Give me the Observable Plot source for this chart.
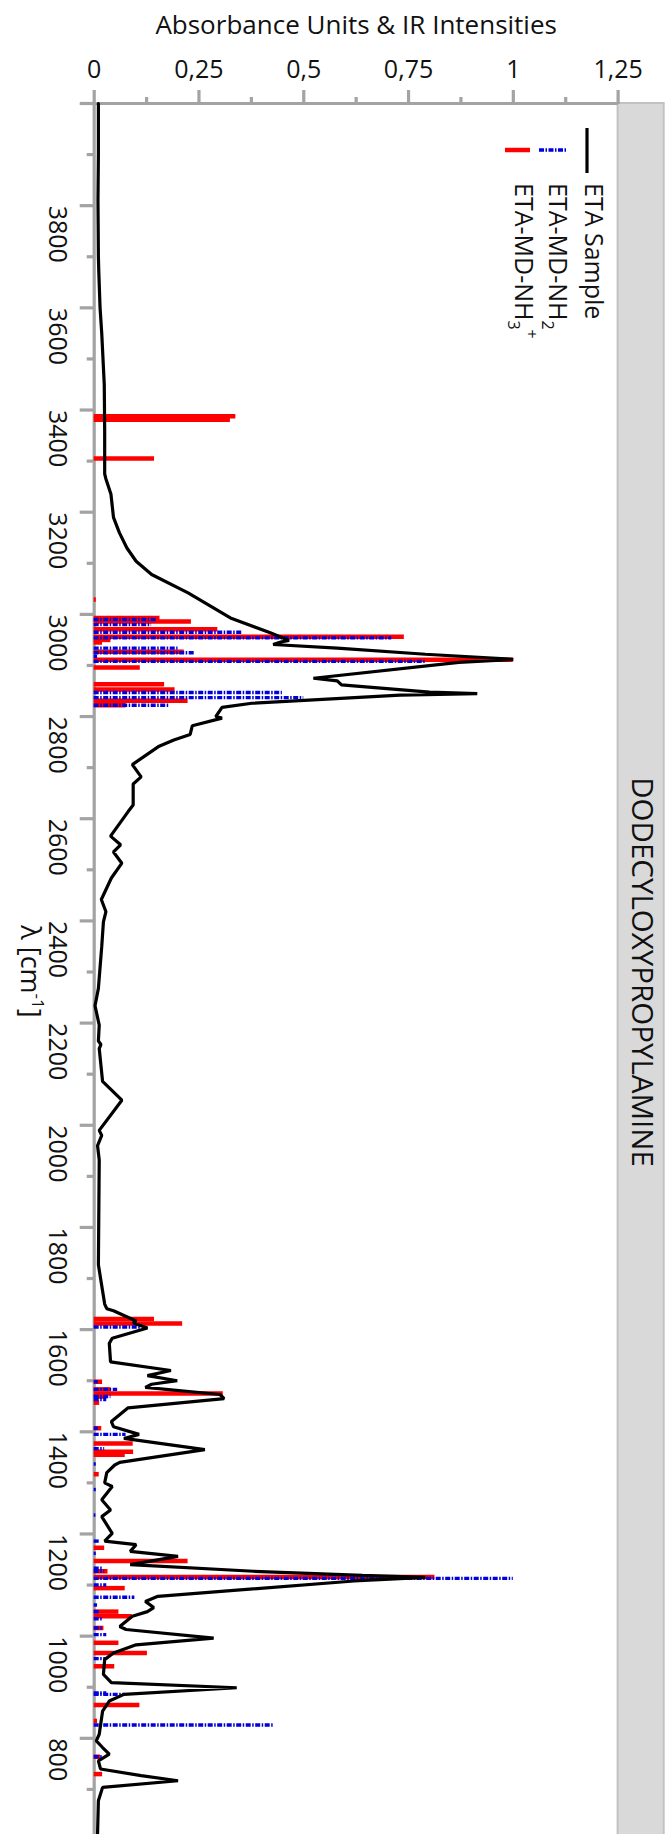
<!DOCTYPE html>
<html><head><meta charset="utf-8">
<script src="https://cdn.jsdelivr.net/npm/d3@7"></script>
<script src="https://cdn.jsdelivr.net/npm/@observablehq/plot@0.6"></script>
<style>body{margin:0;background:#fff;overflow:hidden}</style>
</head><body><div id="chart"></div>
<script>
// ETA Sample spectrum (wavenumber cm-1, absorbance)
const spectrumWavenumber = [4000,3900,3810,3700,3670,3600,3550,3450,3360,3275,3265,3235,3190,3160,3130,3104,3078,3042,2993,2964,2949,2946,2941,2934,2922,2912,2906,2875,2870,2862,2848,2845,2842,2826,2818,2800,2797,2782,2765,2754,2742,2706,2682,2668,2627,2614,2566,2549,2535,2513,2484,2442,2418,2398,2350,2268,2234,2196,2165,2158,2150,2086,2049,1990,1980,1960,1932,1727,1686,1650,1641,1637,1617,1613,1603,1583,1573,1537,1520,1510,1500,1493,1487,1473,1465,1447,1420,1410,1395,1387,1365,1340,1335,1320,1300,1293,1267,1247,1234,1201,1186,1179,1166,1156,1140,1127,1119,1115,1108,1078,1068,1056,1048,1039,1019,1013,996,983,967,954,925,909,899,886,873,853,808,795,782,769,756,740,727,717,704,678,613,600];
const spectrumAbsorbance = [0.010,0.010,0.009,0.010,0.011,0.014,0.018,0.024,0.025,0.025,0.028,0.040,0.046,0.060,0.078,0.100,0.137,0.224,0.325,0.420,0.465,0.445,0.427,0.580,0.790,1.000,0.870,0.523,0.580,0.590,0.800,0.914,0.730,0.376,0.305,0.290,0.305,0.234,0.229,0.190,0.155,0.091,0.112,0.093,0.093,0.081,0.039,0.063,0.046,0.066,0.041,0.017,0.028,0.022,0.018,0.010,0.002,0.012,0.010,0.016,0.012,0.020,0.066,0.012,0.018,0.008,0.012,0.010,0.018,0.025,0.030,0.046,0.100,0.093,0.127,0.043,0.036,0.039,0.183,0.127,0.198,0.137,0.122,0.300,0.310,0.081,0.041,0.046,0.107,0.071,0.264,0.061,0.049,0.030,0.025,0.043,0.018,0.039,0.018,0.043,0.025,0.100,0.086,0.200,0.086,0.380,0.640,0.790,0.620,0.152,0.122,0.142,0.127,0.091,0.061,0.076,0.285,0.100,0.046,0.025,0.022,0.041,0.340,0.071,0.036,0.020,0.012,0.005,0.020,0.036,0.010,0.015,0.112,0.200,0.020,0.010,0.008,0.008];

// ETA-MD-NH3+ computed IR intensities (red)
const nh3Wavenumber = [3388,3381,3305,3029,2993,2986,2971,2956,2950,2945,2927,2911,2896,2863,2853,2831,2822,1621,1612,1498,1483,1475,1469,1457,1407,1377,1361,1355,1317,1173,1147,1127,1116,1094,1048,1039,1016,987,967,941,865,834,764,730];
const nh3Intensity = [0.338,0.325,0.144,0.005,0.157,0.232,0.295,0.740,0.040,0.020,0.215,1.000,0.110,0.168,0.193,0.224,0.076,0.144,0.211,0.020,0.040,0.308,0.030,0.013,0.018,0.093,0.094,0.074,0.012,0.025,0.224,0.033,0.813,0.074,0.059,0.091,0.023,0.059,0.127,0.049,0.109,0.008,0.015,0.020];

// ETA-MD-NH2 computed IR intensities (blue)
const nh2Wavenumber = [2990,2980,2965,2954,2934,2925,2918,2908,2847,2837,2822,1605,1498,1483,1469,1463,1407,1395,1367,1337,1287,1237,1186,1162,1133,1127,1113,1100,1076,1061,1048,1034,1016,1003,956,889,886,826,764];
const nh2Intensity = [0.150,0.137,0.353,0.710,0.200,0.242,0.008,0.790,0.449,0.500,0.178,0.112,0.010,0.056,0.040,0.030,0.010,0.076,0.025,0.005,0.005,0.004,0.013,0.005,0.020,0.025,1.000,0.030,0.097,0.008,0.015,0.020,0.023,0.030,0.028,0.030,0.073,0.427,0.020];

const xTicks = [0, 0.25, 0.5, 0.75, 1, 1.25];
const xMinorTicks = [0.125, 0.375, 0.625, 0.875, 1.125];
const yTicks = [3800, 3600, 3400, 3200, 3000, 2800, 2600, 2400, 2200, 2000, 1800, 1600, 1400, 1200, 1000, 800];
const yMajorTickMarks = [4000, 3800, 3600, 3400, 3200, 3000, 2800, 2600, 2400, 2200, 2000, 1800, 1600, 1400, 1200, 1000, 800, 600];
const yMinorTicks = [3900, 3700, 3500, 3300, 3100, 2900, 2700, 2500, 2300, 2100, 1900, 1700, 1500, 1300, 1100, 900, 700];
const facetLabels = ["DODECYLOXYPROPYLAMINE"];
const xTitle = ["Absorbance Units & IR Intensities"];

const spectrum = spectrumWavenumber.map((w, i) => ({w, a: spectrumAbsorbance[i]}));
const nh3 = nh3Wavenumber.map((w, i) => ({w, a: nh3Intensity[i]}));
const nh2 = nh2Wavenumber.map((w, i) => ({w, a: nh2Intensity[i]}));

const FONT = "'Open Sans', 'Noto Sans', 'DejaVu Sans', sans-serif";
const GRAY = "#a3a3a3";
const RED = "#ff0000";
const BLUE = "#0000dd";
const DASH = "5,1.5,1.5,1.5";
const fmt = d => String(d).replace(".", ",");

const plot = Plot.plot({
  width: 667, height: 1840,
  marginTop: 103, marginLeft: 93.7, marginRight: 49.4, marginBottom: 0,
  style: {fontFamily: FONT, fontSize: "25px", color: "#000", background: "#fff"},
  x: {domain: [0, 1.25], axis: null},
  y: {domain: [600, 4000], axis: null},
  marks: [
    Plot.rect(facetLabels, {x1: () => 1.25, x2: () => 1.36, y1: () => 600, y2: () => 4000, fill: "#d9d9d9", stroke: "#c2c2c2", strokeWidth: 2}),
    Plot.text(facetLabels, {x: () => 1.305, y: () => 2300, text: d => d, rotate: 90, fontSize: 29.5, fill: "#111"}),
    Plot.text(xTitle, {frameAnchor: "top", dy: -78, lineAnchor: "middle", text: d => d, fontSize: 26, fill: "#111"}),
    Plot.axisX({anchor: "top", ticks: xMinorTicks, tickSize: 7, tickFormat: () => "", stroke: GRAY, strokeWidth: 3.2, label: null}),
    Plot.axisX({anchor: "top", ticks: xTicks, tickSize: 14, tickPadding: 12, tickFormat: fmt, stroke: GRAY, strokeWidth: 3.2, fontSize: 25, fill: "#111", label: null}),
    Plot.axisY({anchor: "left", ticks: yMinorTicks, tickSize: 7, tickFormat: () => "", stroke: GRAY, strokeWidth: 3.2, label: null}),
    Plot.axisY({anchor: "left", ticks: yMajorTickMarks, tickSize: 14, tickFormat: () => "", stroke: GRAY, strokeWidth: 3.2, label: null}),
    Plot.text(yTicks, {y: d => d, frameAnchor: "left", dx: -37, rotate: 90, text: d => String(d), fontSize: 25, fill: "#111"}),
    Plot.ruleY([4000], {stroke: GRAY, strokeWidth: 3.2}),
    Plot.ruleX([0], {stroke: GRAY, strokeWidth: 3.2}),
    Plot.ruleY(nh3, {y: "w", x1: 0, x2: "a", stroke: RED, strokeWidth: 4.5}),
    Plot.ruleY(nh2, {y: "w", x1: 0, x2: "a", stroke: BLUE, strokeWidth: 3.4, strokeDasharray: DASH}),
    Plot.line(spectrum, {x: "a", y: "w", stroke: "#000", strokeWidth: 3.2, strokeLinejoin: "miter"})
  ]
});

document.getElementById("chart").append(plot);

// axis title and legend (rotated; sub/superscripts via dy shifts: +dy = below baseline)
const svg = d3.select(plot);
const yS = plot.scale("y");
function richText(parent, cx, cy, anchor, size, parts) {
  const tx = parent.append("text")
    .attr("transform", `translate(${cx},${cy}) rotate(90)`)
    .attr("text-anchor", anchor).attr("dy", "0.35em")
    .attr("font-family", FONT).attr("font-size", size).attr("fill", "#111");
  let cur = 0;
  for (const [s, shift, fs] of parts) {
    const target = shift || 0;
    const sp = tx.append("tspan").text(s).attr("dy", target - cur);
    if (fs) sp.attr("font-size", fs);
    cur = target;
  }
  return tx;
}
richText(svg, 21, yS.apply(2300), "middle", 27, [["λ [cm"], ["-1", -11, 17], ["]", 0]]);

const lg = svg.append("g");
lg.append("line").attr("x1", 587).attr("x2", 587).attr("y1", 128).attr("y2", 173).attr("stroke", "#000").attr("stroke-width", 3.2);
lg.append("line").attr("x1", 539).attr("x2", 566).attr("y1", 150).attr("y2", 150).attr("stroke", BLUE).attr("stroke-width", 3.4).attr("stroke-dasharray", DASH);
lg.append("line").attr("x1", 505).attr("x2", 530).attr("y1", 150).attr("y2", 150).attr("stroke", RED).attr("stroke-width", 4.5);
richText(lg, 585, 183, "start", 25, [["ETA Sample"]]);
richText(lg, 549, 183, "start", 25, [["ETA-MD-NH"], ["2", 7, 16]]);
richText(lg, 515, 183, "start", 25, [["ETA-MD-NH"], ["3", 7, 16], ["+", -11, 16]]);
</script>
</body></html>
